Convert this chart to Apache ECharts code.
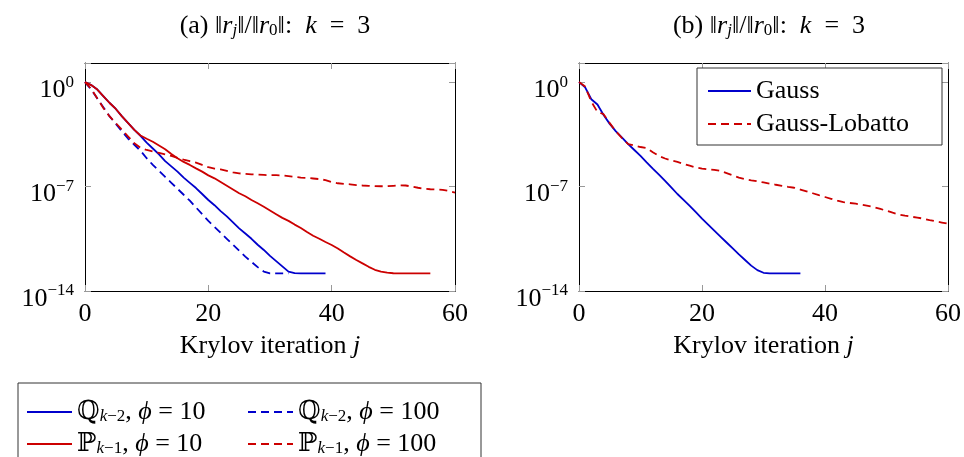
<!DOCTYPE html>
<html>
<head>
<meta charset="utf-8">
<script src="https://cdn.jsdelivr.net/npm/echarts@6/dist/echarts.min.js"></script>
<style>
  html, body { margin: 0; padding: 0; background: #fff; }
  #chart { width: 964px; height: 457px; }
</style>
</head>
<body>
<div id="chart"></div>
<script>
// log10 of ||r_j||/||r_0||, one value per iteration j = 0, 1, 2, ...
var q10Exp = [0, -0.2, -0.5, -0.95, -1.4, -1.8, -2.3, -2.75, -3.2, -3.6, -4.05, -4.45, -4.85, -5.3, -5.65,
  -6.0, -6.4, -6.75, -7.1, -7.5, -7.9, -8.25, -8.65, -9.0, -9.4, -9.8, -10.15, -10.5, -10.9, -11.25,
  -11.65, -12.0, -12.35, -12.7, -12.8, -12.82, -12.82, -12.82, -12.82, -12.82];
var q100Exp = [0, -0.5, -1.1, -1.7, -2.3, -2.8, -3.3, -3.8, -4.2, -4.6, -5.1, -5.55, -5.95, -6.35, -6.75,
  -7.15, -7.55, -7.95, -8.4, -8.85, -9.3, -9.7, -10.1, -10.5, -10.9, -11.3, -11.7, -12.05, -12.4, -12.7,
  -12.82, -12.82, -12.82, -12.82];
var p10Exp = [0, -0.2, -0.5, -0.95, -1.4, -1.8, -2.3, -2.75, -3.2, -3.58, -3.8, -4.0, -4.25, -4.5, -4.82,
  -5.1, -5.35, -5.55, -5.78, -6.0, -6.25, -6.45, -6.7, -6.95, -7.2, -7.45, -7.65, -7.9, -8.12, -8.35,
  -8.6, -8.85, -9.1, -9.3, -9.55, -9.78, -10.05, -10.3, -10.5, -10.72, -10.92, -11.15, -11.42, -11.68,
  -11.92, -12.15, -12.38, -12.58, -12.7, -12.77, -12.81, -12.82, -12.82, -12.82, -12.82, -12.82, -12.82];
var p100Exp = [0, -0.45, -1.1, -1.75, -2.3, -2.75, -3.2, -3.65, -4.1, -4.4, -4.55, -4.65, -4.75, -4.85,
  -4.95, -5.08, -5.2, -5.3, -5.4, -5.55, -5.7, -5.8, -5.85, -5.95, -6.05, -6.12, -6.15, -6.18, -6.2,
  -6.22, -6.24, -6.24, -6.25, -6.3, -6.35, -6.4, -6.42, -6.46, -6.5, -6.57, -6.7, -6.78, -6.82, -6.85,
  -6.9, -6.93, -6.95, -6.97, -6.98, -6.98, -6.95, -6.92, -6.93, -7.0, -7.08, -7.15, -7.18, -7.2, -7.22,
  -7.3, -7.4];
var gaussExp = [0, -0.35, -1.15, -1.5, -2.2, -2.8, -3.3, -3.72, -4.15, -4.55, -4.95, -5.38, -5.8, -6.2,
  -6.62, -7.05, -7.5, -7.9, -8.3, -8.72, -9.15, -9.55, -9.95, -10.35, -10.75, -11.15, -11.55, -11.92,
  -12.3, -12.6, -12.78, -12.82, -12.82, -12.82, -12.82, -12.82, -12.82];
var lobattoExp = [0, -0.3, -1.3, -2.0, -2.15, -2.75, -3.3, -3.75, -4.15, -4.25, -4.35, -4.42, -4.7, -4.95,
  -5.12, -5.25, -5.35, -5.48, -5.6, -5.72, -5.8, -5.85, -5.88, -5.95, -6.1, -6.25, -6.4, -6.5, -6.58,
  -6.65, -6.72, -6.8, -6.88, -6.95, -7.02, -7.08, -7.2, -7.32, -7.45, -7.58, -7.7, -7.82, -7.95, -8.05,
  -8.1, -8.15, -8.22, -8.3, -8.38, -8.5, -8.62, -8.75, -8.87, -8.95, -9.02, -9.08, -9.15, -9.25, -9.33,
  -9.41, -9.49];

var xTicks = [0, 20, 40, 60];
var yTickExps = [-14, -7, 0];

var BLUE = '#0000cc';
var RED = '#cc0000';
var FONT = "'Liberation Serif', 'DejaVu Serif', serif";
var FS = 26;

function toPoints(exps) {
  return exps.map(function (e, j) { return [j, Math.pow(10, e)]; });
}

function tok(size, italic, pad, lh) {
  var s = { fontFamily: FONT, fontSize: size, fontWeight: 'normal', color: '#000',
    fontStyle: italic ? 'italic' : 'normal' };
  if (pad) s.padding = pad;
  if (lh) s.lineHeight = lh;
  return s;
}

var rich = {
  n: tok(FS, false),
  i: tok(FS, true),
  sup: tok(17, false),
  sub: tok(17, false, [9, 0, 0, 0]),
  subi: tok(17, true, [9, 0, 0, 0]),
  tn: tok(FS, false, [16, 0, 0, 0])
};
var legendRich = {
  n: tok(FS, false, null, 21),
  i: tok(FS, true, null, 21),
  sub: tok(17, false, [9, 0, 0, 0], 21),
  subi: tok(17, true, [9, 0, 0, 0], 21)
};

function yLabel(v) {
  var e = Math.log10(v);
  var n = Math.round(e);
  if (Math.abs(e - n) > 1e-6 || yTickExps.indexOf(n) < 0) return '';
  return '{tn|10}{sup|' + (n < 0 ? '\u2212' + (-n) : n) + '}';
}

var legendNames = {
  'Q10': '{n|\u211a}{subi|k}{sub|\u22122}{n|, }{i|\u03d5}{n| = 10}',
  'Q100': '{n|\u211a}{subi|k}{sub|\u22122}{n|, }{i|\u03d5}{n| = 100}',
  'P10': '{n|\u2119}{subi|k}{sub|\u22121}{n|, }{i|\u03d5}{n| = 10}',
  'P100': '{n|\u2119}{subi|k}{sub|\u22121}{n|, }{i|\u03d5}{n| = 100}',
  'Gauss': '{n|Gauss}',
  'Gauss-Lobatto': '{n|Gauss-Lobatto}'
};

var grids = [
  { left: 85, top: 63, width: 370, height: 228 },
  { left: 579, top: 63, width: 370, height: 228 }
];

var xAxes = [];
var yAxes = [];
grids.forEach(function (g, gi) {
  xAxes.push({
    type: 'value', gridIndex: gi, min: 0, max: 60, interval: 20, position: 'bottom',
    axisLine: { show: true, onZero: false, lineStyle: { color: '#000', width: 1 } },
    axisTick: { show: true, inside: true, length: 6, lineStyle: { color: '#999' } },
    splitLine: { show: false },
    axisLabel: {
      margin: 10, color: '#000', fontFamily: FONT, fontSize: FS,
      formatter: function (v) { return xTicks.indexOf(v) >= 0 ? String(v) : ''; }
    },
    name: '{n|Krylov iteration }{i|j}', nameLocation: 'middle', nameGap: 42,
    nameTextStyle: { rich: rich }
  });
  xAxes.push({
    type: 'value', gridIndex: gi, min: 0, max: 60, interval: 20, position: 'top',
    axisLine: { show: true, onZero: false, lineStyle: { color: '#000', width: 1 } },
    axisTick: { show: true, inside: true, length: 6, lineStyle: { color: '#999' } },
    splitLine: { show: false }, axisLabel: { show: false }
  });
  yAxes.push({
    type: 'log', gridIndex: gi, logBase: 10, min: 1e-14, max: Math.pow(10, 1.28), interval: 7,
    position: 'left',
    axisLine: { show: true, onZero: false, lineStyle: { color: '#000', width: 1 } },
    axisTick: { show: true, inside: true, length: 6, lineStyle: { color: '#999' } },
    minorTick: { show: false },
    splitLine: { show: false },
    axisLabel: { margin: 11, formatter: yLabel, rich: rich }
  });
  yAxes.push({
    type: 'log', gridIndex: gi, logBase: 10, min: 1e-14, max: Math.pow(10, 1.28), interval: 7,
    position: 'right',
    axisLine: { show: true, onZero: false, lineStyle: { color: '#000', width: 1 } },
    axisTick: { show: true, inside: true, length: 6, lineStyle: { color: '#999' } },
    splitLine: { show: false }, axisLabel: { show: false }
  });
});

function line(name, exps, color, dashed, gi) {
  return {
    name: name, type: 'line', xAxisIndex: gi * 2, yAxisIndex: gi * 2,
    data: toPoints(exps), symbol: 'none', silent: true, animation: false,
    lineStyle: { color: color, width: 1.8, type: dashed ? [8, 5] : 'solid' },
    itemStyle: { color: color }
  };
}

var titleText = function (tag) {
  return '{n|(' + tag + ') \u2016}{i|r}{subi|j}{n|\u2016/\u2016}{i|r}{sub|0}{n|\u2016:  }{i|k}{n|  =  3}';
};

var chart = echarts.init(document.getElementById('chart'));
chart.setOption({
  animation: false,
  backgroundColor: '#fff',
  title: [
    { text: titleText('a'), left: 270, top: 8, textAlign: 'center',
      textStyle: { fontWeight: 'normal', rich: rich } },
    { text: titleText('b'), left: 764, top: 8, textAlign: 'center',
      textStyle: { fontWeight: 'normal', rich: rich } }
  ],
  grid: grids,
  xAxis: xAxes,
  yAxis: yAxes,
  legend: [
    {
      data: ['Q10', 'Q100', 'P10', 'P100'],
      orient: 'horizontal', left: 18, top: 383, width: 440,
      itemWidth: 45, itemHeight: 14, itemGap: 6,
      padding: [16, 19, 16, 8],
      borderColor: '#333', borderWidth: 1, backgroundColor: '#fff',
      selectedMode: false,
      itemStyle: { opacity: 0 },
      formatter: function (name) { return legendNames[name]; },
      textStyle: { width: 164, lineHeight: 21, rich: legendRich }
    },
    {
      data: ['Gauss', 'Gauss-Lobatto'],
      orient: 'vertical', left: 697, top: 68,
      itemWidth: 43, itemHeight: 14, itemGap: 7,
      padding: [10, 10, 8, 10],
      borderColor: '#333', borderWidth: 1, backgroundColor: '#fff',
      selectedMode: false,
      itemStyle: { opacity: 0 },
      formatter: function (name) { return legendNames[name]; },
      textStyle: { width: 176, lineHeight: 26, rich: rich }
    }
  ],
  series: [
    line('Q10', q10Exp, BLUE, false, 0),
    line('Q100', q100Exp, BLUE, true, 0),
    line('P10', p10Exp, RED, false, 0),
    line('P100', p100Exp, RED, true, 0),
    line('Gauss', gaussExp, BLUE, false, 1),
    line('Gauss-Lobatto', lobattoExp, RED, true, 1)
  ]
});
</script>
</body>
</html>
